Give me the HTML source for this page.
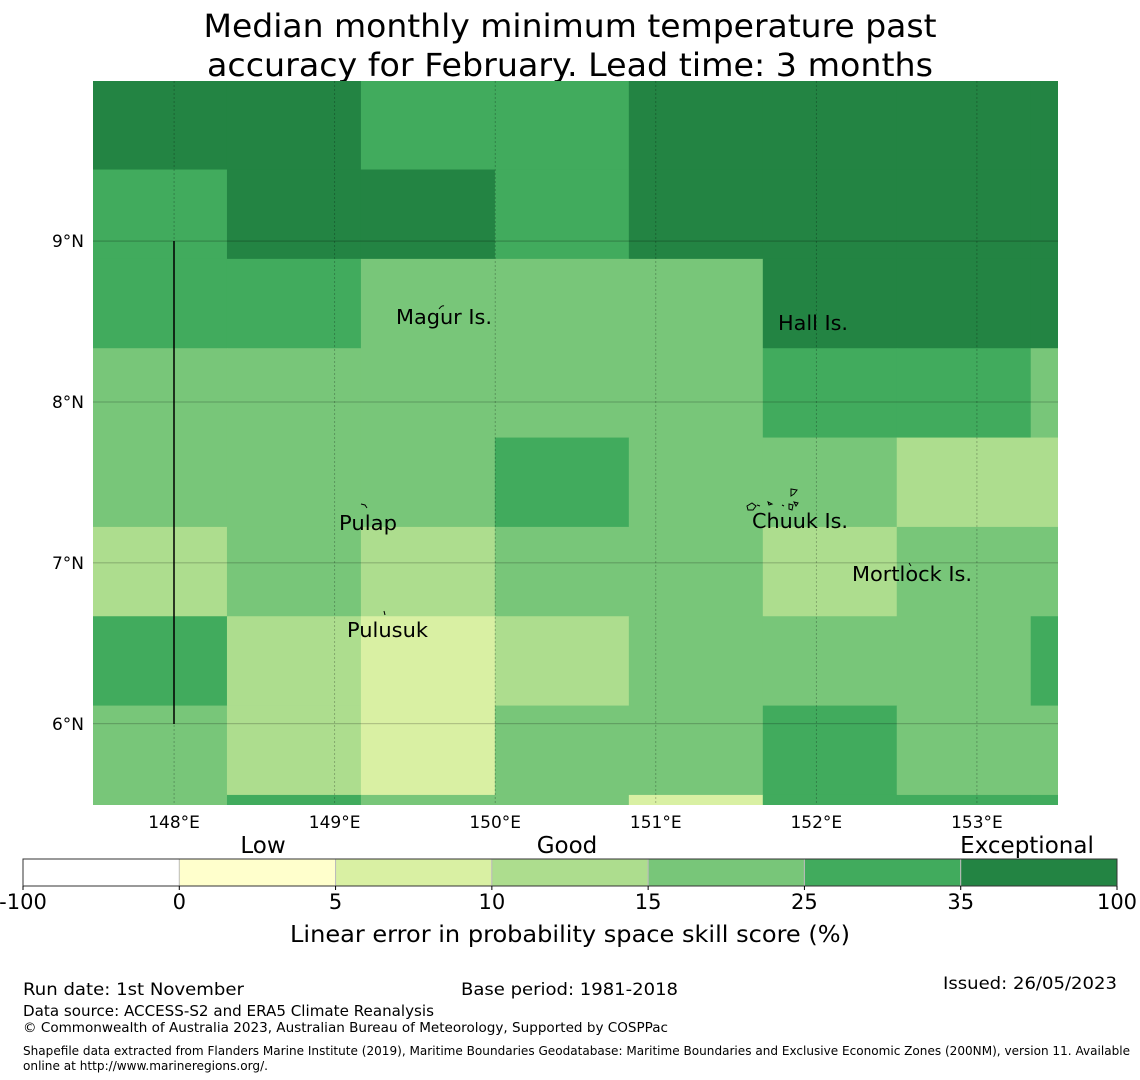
<!DOCTYPE html>
<html><head><meta charset="utf-8"><title>Skill map</title>
<style>html,body{margin:0;padding:0;background:#fff}svg{display:block;font-family:"DejaVu Sans","Liberation Sans",sans-serif}</style>
</head><body>
<svg id="chart" width="1140" height="1080" viewBox="0 0 1140 1080" xmlns="http://www.w3.org/2000/svg">
<g>
<text x="570" y="37" font-size="32" text-anchor="middle" textLength="733" lengthAdjust="spacingAndGlyphs">Median monthly minimum temperature past</text>
<text x="570" y="76" font-size="32" text-anchor="middle" textLength="726" lengthAdjust="spacingAndGlyphs">accuracy for February. Lead time: 3 months</text>
</g>
<g id="cells"></g>
<g id="grid"></g>
<line x1="174" y1="241" x2="174" y2="724" stroke="#000" stroke-width="1.5"/>
<g fill="none" stroke="#000" stroke-width="1">
<path d="M439,309 q3,-4 5,-3"/>
<path d="M361,504 l4,1 l2,3"/>
<path d="M384,611 l1,4"/>
<path d="M791,489 l6,1 l-3,4 l-3,2z"/>
<path d="M747,506 l5,-3 l4,3 l-3,4 l-5,0z"/>
<path d="M757,505 l3,1"/><path d="M768,502 l4,2 l-3,1z"/><path d="M782,505 l2,1"/>
<path d="M789,504 l4,1 l-1,5 l-3,-1z"/><path d="M794,502 l4,1 l-2,3z"/>
<path d="M909,563 l2,3"/>
</g>
<g font-size="20" lengthAdjust="spacingAndGlyphs">
<text x="396" y="324" textLength="96" lengthAdjust="spacingAndGlyphs">Magur Is.</text>
<text x="778" y="330" textLength="70" lengthAdjust="spacingAndGlyphs">Hall Is.</text>
<text x="339" y="530" textLength="58" lengthAdjust="spacingAndGlyphs">Pulap</text>
<text x="752" y="528" textLength="96" lengthAdjust="spacingAndGlyphs">Chuuk Is.</text>
<text x="852" y="581" textLength="120" lengthAdjust="spacingAndGlyphs">Mortlock Is.</text>
<text x="347" y="637" textLength="81" lengthAdjust="spacingAndGlyphs">Pulusuk</text>
</g>
<g id="axes" font-size="17"></g>
<g id="cbar"></g>
<g font-size="23" text-anchor="middle">
<text x="263" y="853">Low</text><text x="567" y="853">Good</text><text x="1027" y="853">Exceptional</text>
</g>
<text x="570" y="942" font-size="23" text-anchor="middle" textLength="560" lengthAdjust="spacingAndGlyphs">Linear error in probability space skill score (%)</text>
<g>
<text x="23" y="995" font-size="17" textLength="221" lengthAdjust="spacingAndGlyphs">Run date: 1st November</text>
<text x="461" y="995" font-size="17" textLength="217" lengthAdjust="spacingAndGlyphs">Base period: 1981-2018</text>
<text x="943" y="989" font-size="17" textLength="174" lengthAdjust="spacingAndGlyphs">Issued: 26/05/2023</text>
<text x="23" y="1016" font-size="15" textLength="411" lengthAdjust="spacingAndGlyphs">Data source: ACCESS-S2 and ERA5 Climate Reanalysis</text>
<text x="23" y="1032" font-size="13" textLength="645" lengthAdjust="spacingAndGlyphs">© Commonwealth of Australia 2023, Australian Bureau of Meteorology, Supported by COSPPac</text>
<text x="23" y="1055" font-size="12" textLength="1107" lengthAdjust="spacingAndGlyphs">Shapefile data extracted from Flanders Marine Institute (2019), Maritime Boundaries Geodatabase: Maritime Boundaries and Exclusive Economic Zones (200NM), version 11. Available</text>
<text x="23" y="1070" font-size="12" textLength="245" lengthAdjust="spacingAndGlyphs">online at http://www.marineregions.org/.</text>
</g>
</svg>
<script>
// Category codes: 0=white(<0),1=0-5,2=5-10,3=10-15,4=15-25,5=25-35,6=35-100
const binColors = ["#ffffff","#ffffcc","#d9f0a3","#addd8e","#78c679","#41ab5d","#238443"];
const binEdges = ["-100","0","5","10","15","25","35","100"];
const lonTicks = [148,149,150,151,152,153];
const latTicks = [9,8,7,6];
const row0 = [6,6,5,5,6,6,6,6];
const row1 = [5,6,6,5,6,6,6,6];
const row2 = [5,5,4,4,4,6,6,6];
const row3 = [4,4,4,4,4,5,5,4];
const row4 = [4,4,4,5,4,4,3,3];
const row5 = [3,4,3,4,4,3,4,4];
const row6 = [5,3,2,3,4,4,4,5];
const row7 = [4,3,2,4,4,5,4,4];
const row8 = [4,5,4,4,2,5,5,5];
const rows = [row0,row1,row2,row3,row4,row5,row6,row7,row8];
const cellLon0 = 147.495, cellDLon = 0.8343;
const cellLat0 = 10.0, cellDLat = 0.5553;
const lonMin = 147.495, lonMax = 153.505, latMin = 5.495, latMax = 9.995;
const X0 = 93, X1 = 1058, Y0 = 81, Y1 = 805;
const NS = "http://www.w3.org/2000/svg";
function xS(lon){return X0 + (lon-lonMin)/(lonMax-lonMin)*(X1-X0);}
function yS(lat){return Y0 + (latMax-lat)/(latMax-latMin)*(Y1-Y0);}
function mk(tag, attrs, parent){const e=document.createElementNS(NS,tag);for(const k in attrs)e.setAttribute(k,attrs[k]);parent.appendChild(e);return e;}
const cells = document.getElementById('cells');
rows.forEach((r,i)=>{r.forEach((v,j)=>{
  const xa = Math.max(X0, xS(cellLon0 + j*cellDLon)), xb = Math.min(X1, xS(cellLon0+(j+1)*cellDLon));
  const ya = Math.max(Y0, yS(cellLat0 - i*cellDLat)), yb = Math.min(Y1, yS(cellLat0-(i+1)*cellDLat));
  if (xb<=xa || yb<=ya) return;
  const c = mk('rect',{x:xa,y:ya,width:Math.min(X1,xb+0.5)-xa,height:Math.min(Y1,yb+0.5)-ya,fill:binColors[v]},cells);
  
  
});});
const grid = document.getElementById('grid'), axes = document.getElementById('axes');
lonTicks.forEach(l=>{
  const x=xS(l);
  const g = mk('line',{x1:x,y1:Y0,x2:x,y2:Y1,stroke:"#000","stroke-opacity":0.3,"stroke-width":0.8,"stroke-dasharray":"2,2"},grid);
  
  
  const t = mk('text',{x:x,y:828,"text-anchor":"middle"},axes); t.textContent=l+"°E";
  
  
});
latTicks.forEach(l=>{
  const y=yS(l);
  const g = mk('line',{x1:X0,y1:y,x2:X1,y2:y,stroke:"#000","stroke-opacity":0.3,"stroke-width":0.8},grid);
  
  
  const t = mk('text',{x:84,y:y+6,"text-anchor":"end"},axes); t.textContent=l+"°N";
  
  
});
const cb = document.getElementById('cbar');
const CB0=23, CB1=1117, CBy=859, CBh=27, segW=(CB1-CB0)/binColors.length;
binColors.forEach((c,i)=>{
  const r = mk('rect',{x:CB0+i*segW,y:CBy,width:segW,height:CBh,fill:c,stroke:i?"#bbb":"none","stroke-width":1},cb);
  
  
});
mk('rect',{x:CB0,y:CBy,width:CB1-CB0,height:CBh,fill:"none",stroke:"#333","stroke-width":1},cb);
binEdges.forEach((e,i)=>{
  const x=CB0+i*segW;
  mk('line',{x1:x,y1:CBy+CBh,x2:x,y2:CBy+CBh+4,stroke:"#000"},cb);
  const t = mk('text',{x:x,y:909,"font-size":21,"text-anchor":"middle"},cb); t.textContent=e;
  
  
});
</script>
</body></html>
